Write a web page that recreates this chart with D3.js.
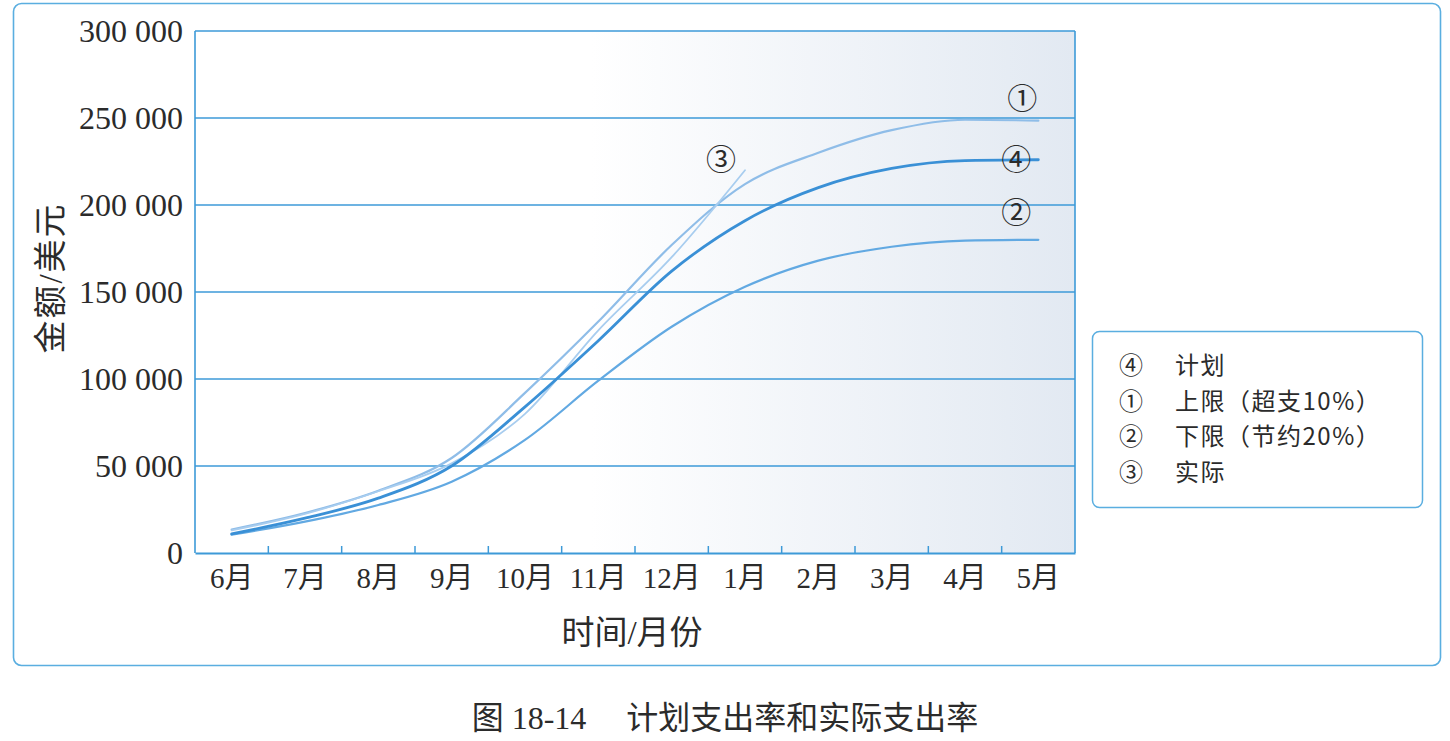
<!DOCTYPE html>
<html>
<head>
<meta charset="utf-8">
<script src="https://cdn.jsdelivr.net/npm/d3@7"></script>
<style>
  body { margin: 0; background: #fff; }
  svg text { font-family: "Liberation Serif", "Noto Sans CJK SC", serif; fill: #2b2b2b; }
</style>
</head>
<body>
<div id="chart"></div>
<script>
// Planned vs actual spending curves (figure 18-14)

let months = ["6月", "7月", "8月", "9月", "10月", "11月", "12月", "1月", "2月", "3月", "4月", "5月"];
let yTicks = [0, 50000, 100000, 150000, 200000, 250000, 300000];

// values, one per month
let plan = [11000, 20000, 31500, 50000, 84000, 122000, 162000, 191000, 210000, 221000, 225500, 226000];
let upper = [13500, 23000, 35800, 54600, 92000, 133000, 177000, 212000, 230000, 243000, 249000, 248500];
let lower = [10500, 18000, 27600, 41000, 65000, 99000, 130000, 153000, 168000, 176000, 179500, 180000];
let actual = [13000, 22500, 35500, 51500, 80000, 128000, 170000, 220000];

let legendKeys = ["④", "①", "②", "③"];
let legendNames = ["计划", "上限（超支10%）", "下限（节约20%）", "实际"];

let blue = "#3d9ad8";

let drawChart = function(){
    let svg = d3.select("#chart").append("svg")
        .attr("width", 1450)
        .attr("height", 741);

    let defs = svg.append("defs");
    let grad = defs.append("linearGradient").attr("id", "bg").attr("x1", "0").attr("x2", "1");
    grad.append("stop").attr("offset", "0.45").attr("stop-color", "#ffffff");
    grad.append("stop").attr("offset", "1").attr("stop-color", "#e2e9f2");

    // outer frame
    svg.append("rect")
        .attr("x", 13.5).attr("y", 3.5)
        .attr("width", 1427).attr("height", 662)
        .attr("rx", 8)
        .attr("fill", "none")
        .attr("stroke", "#5aaee0")
        .attr("stroke-width", 1.6);

    let left = 195, right = 1075, top = 31, bottom = 553;

    let x = d3.scaleBand().domain(months).range([left, right]).padding(0);
    let y = d3.scaleLinear().domain([0, 300000]).range([bottom, top]);
    let cx = function(m){ return x(m) + x.bandwidth() / 2; };

    svg.append("rect")
        .attr("x", left).attr("y", top)
        .attr("width", right - left).attr("height", bottom - top)
        .attr("fill", "url(#bg)");

    // grid lines
    svg.append("g").selectAll("line").data(yTicks.slice(1)).enter().append("line")
        .attr("x1", left).attr("x2", right)
        .attr("y1", function(d){ return y(d); })
        .attr("y2", function(d){ return y(d); })
        .attr("stroke", blue)
        .attr("stroke-width", 1.6);

    // left and right borders
    svg.append("line").attr("x1", left).attr("x2", left).attr("y1", top).attr("y2", bottom)
        .attr("stroke", blue).attr("stroke-width", 1.6);
    svg.append("line").attr("x1", right).attr("x2", right).attr("y1", top).attr("y2", bottom)
        .attr("stroke", blue).attr("stroke-width", 1.6);

    // y axis labels
    let fmt = function(d){ return d3.format(",")(d).replace(/,/g, " "); };
    let yAxis = svg.append("g")
        .attr("transform", "translate(" + left + ",0)")
        .call(d3.axisLeft(y).tickValues(yTicks).tickSize(0).tickPadding(12).tickFormat(fmt));
    yAxis.select(".domain").remove();
    yAxis.selectAll("text")
        .attr("font-size", 32)
        .attr("fill", "#2b2b2b")
        .style("font-family", "Liberation Serif");

    // x axis
    let xAxis = svg.append("g")
        .attr("transform", "translate(0," + bottom + ")")
        .call(d3.axisBottom(x).tickSize(0).tickPadding(14));
    xAxis.select(".domain")
        .attr("stroke", blue)
        .attr("stroke-width", 1.8);
    xAxis.selectAll("text")
        .attr("font-size", 29)
        .attr("fill", "#2b2b2b");

    // little tick marks at month boundaries
    svg.append("g").selectAll("line").data(months.slice(1)).enter().append("line")
        .attr("x1", function(d){ return x(d); })
        .attr("x2", function(d){ return x(d); })
        .attr("y1", bottom)
        .attr("y2", bottom - 7)
        .attr("stroke", blue)
        .attr("stroke-width", 1.5);

    let line = d3.line()
        .x(function(d, i){ return cx(months[i]); })
        .y(function(d){ return y(d); })
        .curve(d3.curveMonotoneX);

    let series = [
        {data: lower, color: "#62a9e2", width: 2.2},
        {data: upper, color: "#8fbde8", width: 2.2},
        {data: actual, color: "#a8cdef", width: 1.8},
        {data: plan, color: "#3a90d6", width: 2.8}
    ];

    series.forEach(function(s){
        svg.append("path")
            .datum(s.data)
            .attr("d", line)
            .attr("fill", "none")
            .attr("stroke", s.color)
            .attr("stroke-width", s.width)
            .attr("stroke-linecap", "round");
    });

    // circled labels on the curves
    let last = months[months.length - 1];
    let tags = [
        {t: "①", x: cx(last) - 16, y: y(upper[upper.length - 1]) - 22},
        {t: "④", x: cx(last) - 22, y: y(plan[plan.length - 1])},
        {t: "②", x: cx(last) - 22, y: y(lower[lower.length - 1]) - 27},
        {t: "③", x: cx(months[actual.length - 1]) - 24, y: y(actual[actual.length - 1]) - 11}
    ];
    svg.append("g").selectAll("text").data(tags).enter().append("text")
        .attr("x", function(d){ return d.x; })
        .attr("y", function(d){ return d.y; })
        .attr("dy", "0.35em")
        .attr("text-anchor", "middle")
        .attr("font-size", 30)
        .style("font-family", "Noto Sans CJK SC")
        .text(function(d){ return d.t; });

    // axis titles
    svg.append("text")
        .attr("x", 632).attr("y", 632)
        .attr("dy", "0.35em")
        .attr("text-anchor", "middle")
        .attr("font-size", 33)
        .text("时间/月份");

    svg.append("text")
        .attr("transform", "translate(50,278) rotate(-90)")
        .attr("dy", "0.35em")
        .attr("text-anchor", "middle")
        .attr("font-size", 33)
        .attr("letter-spacing", 2)
        .text("金额/美元");

    // legend
    svg.append("rect")
        .attr("x", 1092.5).attr("y", 331.5)
        .attr("width", 330).attr("height", 176)
        .attr("rx", 7)
        .attr("fill", "#fff")
        .attr("stroke", "#5aaee0")
        .attr("stroke-width", 1.5);

    let lg = svg.append("g").selectAll("g").data(legendKeys).enter().append("g")
        .attr("transform", function(d, i){ return "translate(1131," + (366 + i * 35.5) + ")"; });
    lg.append("text")
        .attr("text-anchor", "middle")
        .attr("dy", "0.35em")
        .attr("font-size", 24)
        .style("font-family", "Noto Sans CJK SC")
        .text(function(d){ return d; });
    lg.append("text")
        .attr("x", 44)
        .attr("dy", "0.35em")
        .attr("font-size", 24)
        .attr("letter-spacing", 1.5)
        .style("font-family", "Noto Sans CJK SC")
        .text(function(d, i){ return legendNames[i]; });

    // caption
    svg.append("text")
        .attr("x", 725).attr("y", 718)
        .attr("dy", "0.35em")
        .attr("text-anchor", "middle")
        .attr("font-size", 32)
        .attr("xml:space", "preserve")
        .text("图 18-14     计划支出率和实际支出率");
};

drawChart();
</script>
</body>
</html>
